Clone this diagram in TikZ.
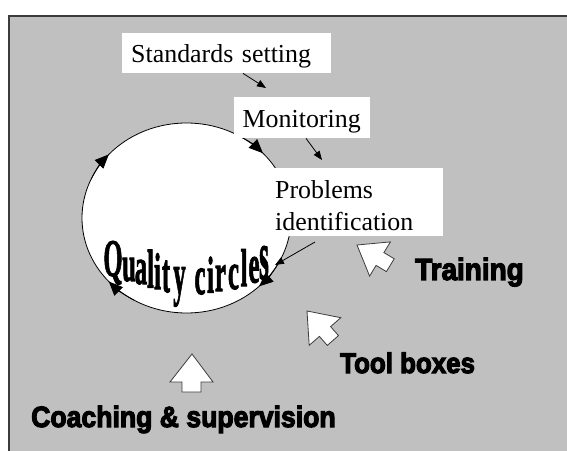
\documentclass[tikz,border=0pt]{standalone}
\usepackage{fontspec}
\usepackage{graphicx}
\setmainfont{Liberation Serif}
\newfontfamily\heavyfont{Liberation Sans Bold}[FakeBold=4]
\newfontfamily\wordartfont{Liberation Serif Bold}[FakeBold=2]
\usetikzlibrary{arrows.meta,shapes.geometric}
\definecolor{bggray}{RGB}{192,192,192}
\definecolor{edgegray}{RGB}{60,60,60}
\tikzset{
  txtbox/.style={fill=white, anchor=north west, inner xsep=0pt, inner ysep=0pt,
    font=\fontsize{26}{32}\selectfont},
  sarr/.style={line width=0.8bp, -{Triangle[length=9bp,width=7bp]}},
  circarr/.style={line width=0.8bp, -{Triangle[length=14bp,width=12bp]}},
  blockarrow/.style={fill=white, draw=edgegray, line width=0.8bp, line join=miter},
  heavylabel/.style={anchor=base west, inner sep=0pt, font=\heavyfont},
  qletter/.style={anchor=base, inner sep=0pt, font=\wordartfont\fontsize{28}{30}\selectfont}
}
\newcommand{\qltr}[5]{\node[qletter] (ql#1) at (#2,#3) {\scalebox{0.88}[#4]{#5}};}
\newcommand{\heavytext}[2]{\scalebox{1}[1.1]{\fontsize{#1}{#1}\selectfont #2}}
\begin{document}
\begin{tikzpicture}[x=1bp,y=-1bp]
\useasboundingbox (0,0) rectangle (567,451);
\fill[white] (0,0) rectangle (567,451);
\fill[bggray] (9,16) rectangle (567,451);
\draw[line width=1.2bp, edgegray] (9,451) -- (9,16) -- (567,16);

% quality circle
\node[draw, fill=white, ellipse, line width=0.8bp, minimum width=209bp, minimum height=190bp, inner sep=0pt] (qc) at (186.5,218) {};
\draw[circarr] (186.5,218) ++(-62:104.5 and 95) arc[start angle=-62, end angle=-43, x radius=104.5, y radius=95];
\draw[circarr] (186.5,218) ++(204:104.5 and 95) arc[start angle=204, end angle=222, x radius=104.5, y radius=95];
\draw[circarr] (186.5,218) ++(120:104.5 and 95) arc[start angle=120, end angle=138, x radius=104.5, y radius=95];
\draw[circarr] (186.5,218) ++(27:104.5 and 95) arc[start angle=27, end angle=46, x radius=104.5, y radius=95];

% warped title
\qltr{1}{113}{276}{1.9}{Q}
\qltr{2}{129}{281}{1.8}{u}
\qltr{3}{141}{284}{1.85}{a}
\qltr{4}{150.5}{287.5}{1.95}{l}
\qltr{5}{157.5}{289}{1.85}{i}
\qltr{6}{166}{292}{2.0}{t}
\qltr{7}{179.5}{294}{2.1}{y}
\qltr{8}{200}{294}{1.95}{c}
\qltr{9}{210.5}{292.5}{1.85}{i}
\qltr{10}{220.5}{291}{1.95}{r}
\qltr{11}{233.5}{289}{1.85}{c}
\qltr{12}{244}{286}{1.9}{l}
\qltr{13}{254}{282.5}{1.95}{e}
\qltr{14}{264}{279}{2.5}{s}

% text boxes
\node[txtbox, inner xsep=9bp, text width=191bp, align=left, text height=29bp, text depth=11bp] (std) at (122,33) {Standards setting};
\node[txtbox, inner xsep=8.5bp, text width=119bp, align=left, text height=30bp, text depth=11bp] (mon) at (234,97) {Monitoring};
\node[txtbox, inner xsep=7bp, text height=30bp, text depth=38bp] (pid) at (268,168)
  {\makebox[161bp][l]{\vtop{\baselineskip=32bp\hbox{Problems}\hbox{identification}}}};

% small connectors
\coordinate (t1) at (266,88);
\coordinate (t2) at (322,160);
\coordinate (p1) at (315,242);
\coordinate (p2) at (275,265);
\draw[sarr] ([xshift=121bp]std.south west) -- (t1);
\draw[sarr] ([xshift=72bp]mon.south west) -- (t2);
\draw[sarr] (p1) -- (p2);

% block arrows
\draw[blockarrow] (357,245) -- (390.4,241.9) -- (383.9,252.6) -- (394.2,258.8) -- (386.4,271.6) -- (376.1,265.4) -- (369.6,276.1) -- cycle;
\draw[blockarrow] (307,311) -- (340.8,317.7) -- (330.6,326.6) -- (338.5,335.6) -- (327.3,345.4) -- (319.4,336.4) -- (309.2,345.3) -- cycle;
\draw[blockarrow] (192,354) -- (213,382) -- (201,382) -- (201,392) -- (182,392) -- (182,382) -- (170,382) -- cycle;

% heavy labels
\node[heavylabel] (train) at (415,280) {\heavytext{28}{Training}};
\node[heavylabel] (tools) at (340,373) {\heavytext{26}{Tool boxes}};
\node[heavylabel] (coach) at (31,427) {\heavytext{26.7}{Coaching \& supervision}};
\end{tikzpicture}
\end{document}
